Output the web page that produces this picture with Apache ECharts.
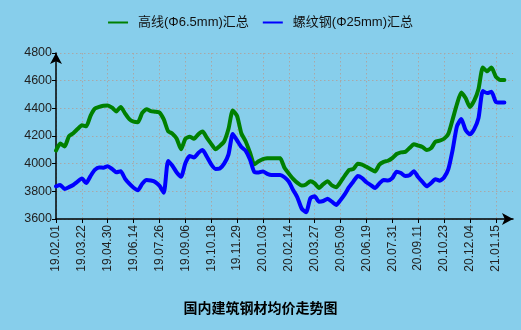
<!DOCTYPE html>
<html>
<head>
<meta charset="utf-8">
<script src="https://cdn.jsdelivr.net/npm/echarts@6/dist/echarts.min.js"></script>
<style>
html,body{margin:0;padding:0;background:#87CEEB;}
#chart{width:521px;height:330px;}
</style>
</head>
<body>
<div id="chart"></div>
<script>
var tickLabels = ['19.02.01','19.03.22','19.04.30','19.06.14','19.07.26','19.09.06','19.10.18','19.11.29','20.01.03','20.02.14','20.03.27','20.05.09','20.06.19','20.07.31','20.09.11','20.10.23','20.12.04','21.01.15'];
var pointsPerTick = 6;
var trailingSlots = 4;

var wireRod = [4095,4145,4125,4198,4220,4250,4278,4270,4346,4398,4410,4418,4421,4405,4378,4410,4364,4322,4304,4300,
4367,4394,4380,4376,4370,4320,4235,4217,4180,4104,4180,4195,4180,4212,4232,4186,4143,4104,4128,4160,
4250,4385,4345,4218,4160,4080,3995,4017,4033,4039,4040,4040,4039,3970,3928,3890,3861,3842,3850,3873,
3858,3825,3852,3872,3843,3830,3868,3913,3955,3962,4000,3993,3977,3960,3944,3993,4013,4021,4040,4070,
4082,4085,4113,4140,4131,4121,4098,4112,4158,4166,4180,4215,4320,4430,4515,4475,4410,4455,4540,4695,
4668,4695,4630,4605,4605];

var rebar = [3836,3845,3817,3830,3846,3870,3893,3860,3910,3955,3973,3971,3982,3962,3938,3945,3892,3855,3826,3808,
3855,3882,3878,3868,3840,3790,4020,3985,3936,3905,4003,4055,4045,4077,4098,4050,3995,3962,3965,4000,
4065,4215,4168,4120,4093,4030,3940,3936,3944,3926,3918,3918,3918,3902,3870,3810,3755,3675,3648,3750,
3765,3725,3730,3746,3725,3702,3738,3780,3832,3872,3910,3895,3866,3845,3824,3857,3882,3878,3895,3942,
3932,3911,3916,3946,3903,3868,3836,3860,3888,3877,3900,3960,4100,4270,4322,4243,4212,4250,4330,4525,
4510,4520,4448,4442,4442];

var seriesNames = ['高线(Φ6.5mm)汇总','螺纹钢(Φ25mm)汇总'];
var chartTitle = '国内建筑钢材均价走势图';

var categories = [];
tickLabels.forEach(function(lbl, i){
  categories.push(lbl);
  if (i < tickLabels.length - 1) {
    for (var j = 1; j < pointsPerTick; j++) categories.push('');
  }
});
for (var t = 0; t < trailingSlots; t++) categories.push('');

var chart = echarts.init(document.getElementById('chart'));
var font = 'Liberation Sans, Arial, Noto Sans CJK SC, sans-serif';
chart.setOption({
  backgroundColor: '#87CEEB',
  animation: false,
  title: {
    text: chartTitle,
    left: 'center',
    top: 296,
    textStyle: {fontSize: 14, fontWeight: 'bold', color: '#000', fontFamily: 'Noto Sans CJK SC, sans-serif'}
  },
  legend: {
    top: 11,
    left: 'center',
    itemWidth: 20,
    itemHeight: 10,
    itemGap: 14,
    textStyle: {fontSize: 13, color: '#111', fontFamily: font, padding: [0, 0, 0, 5]},
    data: [
      {name: seriesNames[0], icon: 'path://M0,4L20,4L20,6L0,6Z'},
      {name: seriesNames[1], icon: 'path://M0,4L20,4L20,6L0,6Z'}
    ]
  },
  grid: {left: 56, right: 8, top: 53, bottom: 111, containLabel: false},
  xAxis: {
    type: 'category',
    boundaryGap: false,
    data: categories,
    axisLine: {show: true, symbol: ['none','arrow'], symbolSize: [9, 11], lineStyle: {color: '#000', width: 1.5}},
    axisTick: {show: true, interval: pointsPerTick - 1, length: 4, lineStyle: {color: '#000'}},
    axisLabel: {interval: pointsPerTick - 1, rotate: 90, fontSize: 12, color: '#222', fontFamily: font, margin: 6},
    splitLine: {show: true, interval: pointsPerTick - 1, lineStyle: {color: '#a8a8a8', type: [1.5, 2.5], width: 1}}
  },
  yAxis: {
    type: 'value',
    min: 3600,
    max: 4800,
    interval: 200,
    axisLine: {show: true, symbol: ['none','arrow'], symbolSize: [9, 11], lineStyle: {color: '#000', width: 1.5}},
    axisTick: {show: true, length: 4, lineStyle: {color: '#000'}},
    axisLabel: {fontSize: 12.5, color: '#222', fontFamily: font, margin: 4, formatter: function(v){ return String(v); }},
    splitLine: {show: true, lineStyle: {color: '#a8a8a8', type: [1.5, 2.5], width: 1}}
  },
  series: [
    {name: seriesNames[0], type: 'line', data: wireRod, showSymbol: false, smooth: 0.2,
     lineStyle: {color: '#008000', width: 4, cap: 'round', join: 'round'}, itemStyle: {color: '#008000'}},
    {name: seriesNames[1], type: 'line', data: rebar, showSymbol: false, smooth: 0.2,
     lineStyle: {color: '#0000FF', width: 4, cap: 'round', join: 'round'}, itemStyle: {color: '#0000FF'}}
  ]
});
</script>
</body>
</html>
